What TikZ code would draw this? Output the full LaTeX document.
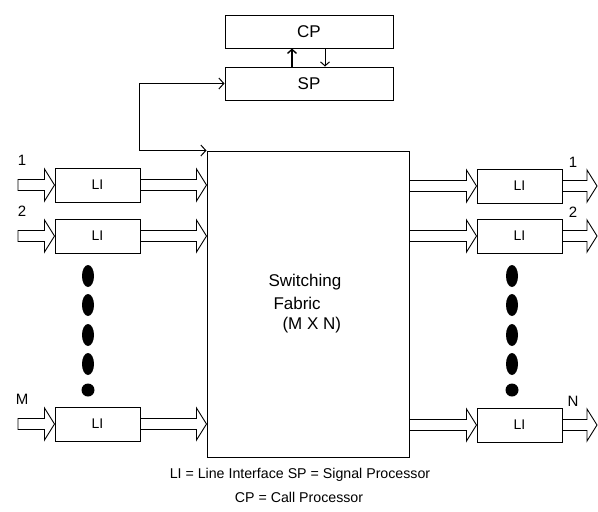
\documentclass[tikz,border=0pt]{standalone}
\usepackage{fontspec}
\setmainfont{Liberation Sans}
\usepackage{tikz}
\usetikzlibrary{positioning, arrows.meta, calc}

% hollow wide arrow between two points on one line
\newcommand{\fatarrow}[2]{%
  \draw[bigarrow] let \p1=(#1), \p2=(#2) in
    (\x1,\y1+5.5pt) -- (\x2-10pt,\y1+5.5pt) -- (\x2-10pt,\y1+16pt) -- (\x2,\y1)
    -- (\x2-10pt,\y1-16pt) -- (\x2-10pt,\y1-5.5pt) -- (\x1,\y1-5.5pt) -- cycle;
}

\begin{document}
\begin{tikzpicture}[x=1pt, y=-1pt, line width=1pt,
  box/.style={draw, fill=white, inner sep=0pt, minimum width=168pt, minimum height=33pt, font=\fontsize{17}{20}\selectfont},
  libox/.style={draw, fill=white, inner sep=0pt, minimum width=85pt, minimum height=34pt, font=\fontsize{14}{17}\selectfont},
  bigarrow/.style={draw, fill=white, line width=0.9pt, line join=miter},
  lab/.style={inner sep=0pt, font=\fontsize{15}{18}\selectfont},
  sig/.style={{Straight Barb[length=5pt, width=11pt]}-{Straight Barb[length=5pt, width=11pt]}}]

\useasboundingbox (0,0) rectangle (598,512);

% Processors
\node[box] (cp) at (309,31.5) {CP};
\node[box] (sp) at (309,83.5) {SP};
\draw[-{Straight Barb[length=4pt, width=9pt]}, line width=1.4pt] ([xshift=-17pt]sp.north) -- ([xshift=-17pt]cp.south);
\draw[-{Straight Barb[length=4pt, width=9pt]}] ([xshift=16pt]cp.south) -- ([xshift=16pt]sp.north);

% Switching fabric
\node[draw, inner sep=0pt, minimum width=202pt, minimum height=306pt] (fabric) at (308,304) {};
\node[lab, anchor=west, font=\fontsize{17}{20}\selectfont] (sw1) at (268,282) {Switching};
\node[lab, anchor=west, font=\fontsize{17}{20}\selectfont] (sw2) at (273,303) {Fabric};
\node[lab, anchor=west, font=\fontsize{17}{20}\selectfont] (sw3) at (282,325) {(M X N)};
\draw[sig] (fabric.north west) -- ++(-67,0) |- (sp.west);

% Line interfaces
\foreach \i/\yl/\yr/\la/\lb in {1/185/186/1/1, 2/236/236/2/2, 3/424/425/M/N} {
  \node[libox] (liL\i) at (97.5,\yl) {LI};
  \node[libox] (liR\i) at (519.5,\yr) {LI};
  \coordinate (in\i) at (18,\yl);
  \coordinate (out\i) at (597,\yr);
  \node[lab] (labL\i) at (22,\yl-25) {\la};
  \node[lab] (labR\i) at (573,\yr-24) {\lb};
  \fatarrow{in\i}{liL\i.west}
  \fatarrow{liL\i.east}{liL\i.east -| fabric.west}
  \fatarrow{liR\i.west -| fabric.east}{liR\i.west}
  \fatarrow{liR\i.east}{out\i}
}

% Dots
\foreach \d in {276,305,335,364} {
  \fill (88,\d) ellipse (6 and 11);
  \fill (512,\d) ellipse (6 and 11);
}
\fill (88,390) circle (6.5);
\fill (512,390) circle (6.5);

% Legend
\node[lab, font=\fontsize{14.2}{17}\selectfont] (leg1) at (300,475) {LI = Line Interface SP = Signal Processor};
\node[lab, font=\fontsize{14.2}{17}\selectfont] (leg2) at (299,497) {CP = Call Processor};

\end{tikzpicture}
\end{document}
